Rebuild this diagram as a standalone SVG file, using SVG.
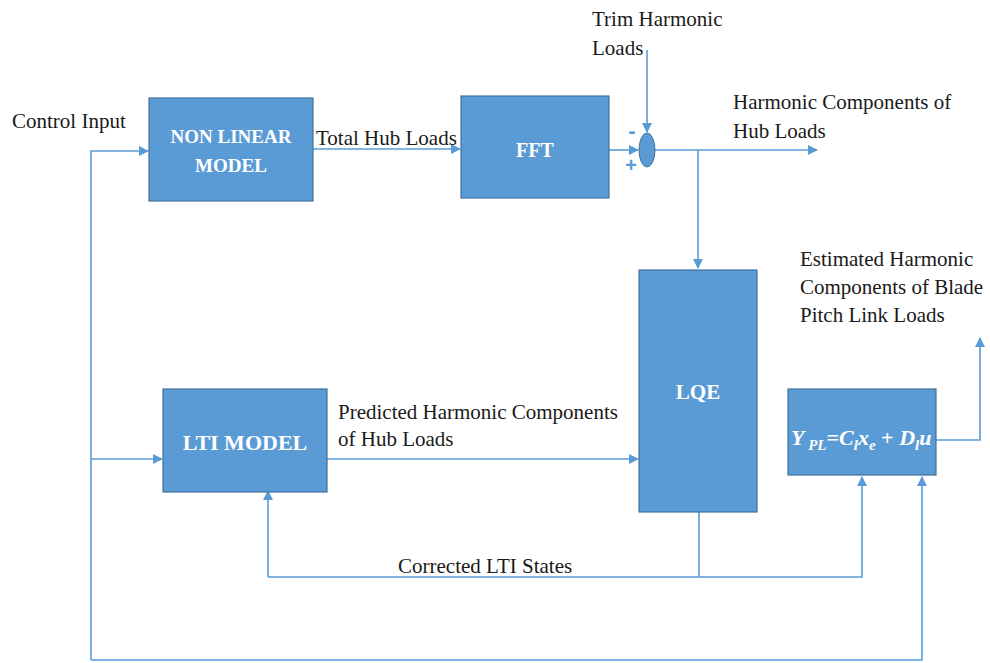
<svg xmlns="http://www.w3.org/2000/svg" width="990" height="663" viewBox="0 0 990 663">
<style>
.box{fill:#5B9BD5;stroke:#41719C;stroke-width:1.2}
.ln{fill:none;stroke:#5B9BD5;stroke-width:1.6}
.t{font-family:"Liberation Serif","Times New Roman",serif;font-size:21px;fill:#1a1a1a}
.bl{font-family:"Liberation Serif","Times New Roman",serif;font-weight:bold;fill:#fff;text-anchor:middle}
.eq{font-family:"Liberation Serif","Times New Roman",serif;font-style:italic;font-weight:bold;fill:#fff;font-size:22px}
.sg{font-family:"Liberation Sans",Arial,sans-serif;font-weight:bold;fill:#5B9BD5;text-anchor:middle}
</style>
<defs>
<marker id="ah" markerWidth="10" markerHeight="10" refX="9" refY="5" orient="auto" markerUnits="userSpaceOnUse">
<path d="M0,0 L10,5 L0,10 Z" fill="#5B9BD5"/>
</marker>
</defs>
<rect width="990" height="663" fill="#fff"/>
<g id="connectors">
<path class="ln" d="M91,660 V151 H148" marker-end="url(#ah)"/>
<path class="ln" d="M91,459 H162" marker-end="url(#ah)"/>
<path class="ln" d="M313,149 H460" marker-end="url(#ah)"/>
<path class="ln" d="M609,150 H638" marker-end="url(#ah)"/>
<path class="ln" d="M647,50 V132" marker-end="url(#ah)"/>
<path class="ln" d="M655,150 H817" marker-end="url(#ah)"/>
<path class="ln" d="M698,150 V268" marker-end="url(#ah)"/>
<path class="ln" d="M327,459 H638" marker-end="url(#ah)"/>
<path class="ln" d="M699,512 V577"/>
<path class="ln" d="M268,577 H862 V477" marker-end="url(#ah)"/>
<path class="ln" d="M268,577 V491" marker-end="url(#ah)"/>
<path class="ln" d="M91,660 H922 V477" marker-end="url(#ah)"/>
<path class="ln" d="M936,440 H980 V338" marker-end="url(#ah)"/>
</g>
<g id="nonlinear">
<rect class="box" x="149" y="98" width="164" height="103"/>
<text class="bl" x="231" y="143" font-size="19">NON LINEAR</text>
<text class="bl" x="231" y="172" font-size="19">MODEL</text>
</g>
<g id="fft">
<rect class="box" x="461" y="96" width="148" height="102"/>
<text class="bl" x="535" y="157" font-size="20">FFT</text>
</g>
<g id="sum">
<ellipse cx="647" cy="150" rx="8" ry="17" fill="#5B9BD5" stroke="#41719C" stroke-width="1"/>
<text class="sg" x="632" y="138" font-size="22">-</text>
<text class="sg" x="631" y="172" font-size="20">+</text>
</g>
<g id="lqe">
<rect class="box" x="639" y="270" width="118" height="242"/>
<text class="bl" x="698" y="399" font-size="21">LQE</text>
</g>
<g id="lti">
<rect class="box" x="163" y="389" width="164" height="103"/>
<text class="bl" x="245" y="450" font-size="22">LTI MODEL</text>
</g>
<g id="output">
<rect class="box" x="788" y="389" width="148" height="86"/>
<text class="eq" x="791" y="445">Y<tspan font-size="15" dy="5"> PL</tspan><tspan dy="-5" font-style="normal">=</tspan>C<tspan font-size="15" dy="5">l</tspan><tspan dy="-5">x</tspan><tspan font-size="15" dy="5">e</tspan><tspan dy="-5" font-style="normal"> + </tspan>D<tspan font-size="15" dy="5">l</tspan><tspan dy="-5">u</tspan></text>
</g>
<g id="labels">
<text class="t" x="12" y="128">Control Input</text>
<text class="t" x="316" y="145">Total Hub Loads</text>
<text class="t" x="592" y="26">Trim Harmonic</text>
<text class="t" x="592" y="55">Loads</text>
<text class="t" x="733" y="109">Harmonic Components of</text>
<text class="t" x="733" y="138">Hub Loads</text>
<text class="t" x="800" y="266">Estimated Harmonic</text>
<text class="t" x="800" y="294">Components of Blade</text>
<text class="t" x="800" y="322">Pitch Link Loads</text>
<text class="t" x="338" y="419">Predicted Harmonic Components</text>
<text class="t" x="338" y="446">of Hub Loads</text>
<text class="t" x="398" y="573">Corrected LTI States</text>
</g>
</svg>
